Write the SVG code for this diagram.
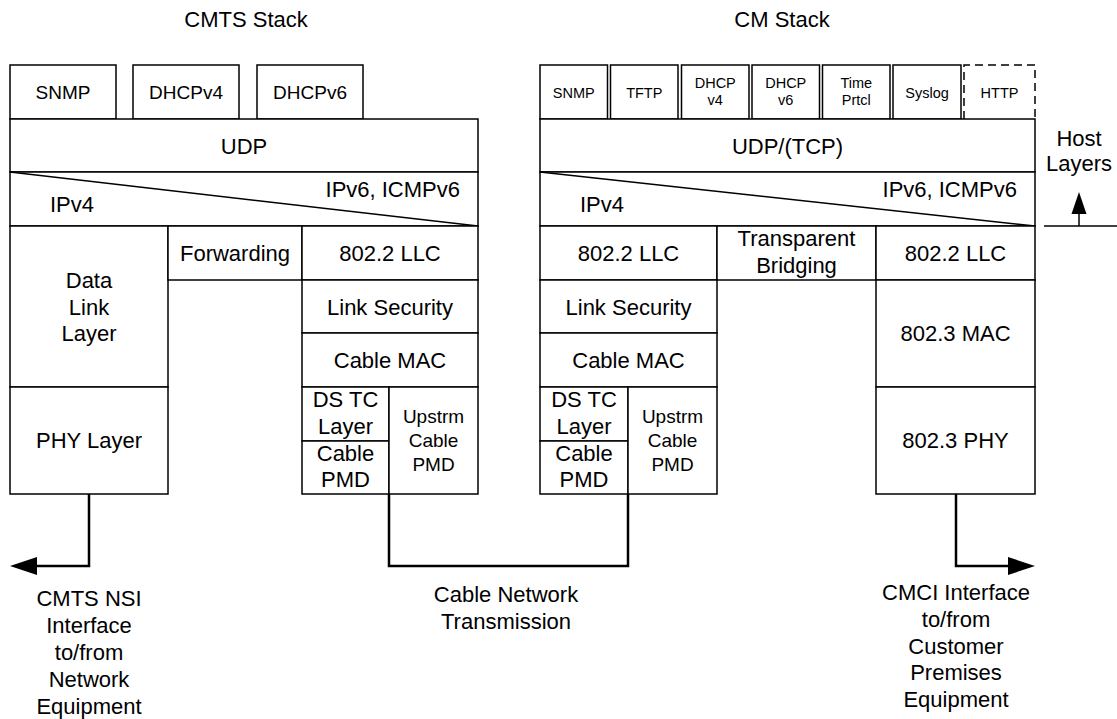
<svg xmlns="http://www.w3.org/2000/svg" width="1117" height="719" viewBox="0 0 1117 719">
<style>
  text { font-family: "Liberation Sans", Arial, sans-serif; fill: #000; text-anchor: middle; }
  .t22 { font-size: 22px; }
  .t19 { font-size: 19px; }
  .t14 { font-size: 14.5px; }
  .box { fill: #fff; stroke: #000; stroke-width: 1.5; }
  .dash { fill: none; stroke: #000; stroke-width: 1.5; stroke-dasharray: 8 5; }
  .thin { fill: none; stroke: #000; stroke-width: 1.5; }
  .conn { fill: none; stroke: #000; stroke-width: 2.5; }
  .st { text-anchor: start; }
  .en { text-anchor: end; }
</style>
<defs>
  <marker id="arrow" markerUnits="userSpaceOnUse" viewBox="0 0 27 18" refX="17" refY="9" markerWidth="27" markerHeight="18" orient="auto">
    <path d="M0,0 L27,9 L0,18 z" fill="#000"/>
  </marker>
</defs>
<rect width="1117" height="719" fill="#fff"/>

<g id="titles">
  <text class="t22" x="246" y="27">CMTS Stack</text>
  <text class="t22" x="782" y="27">CM Stack</text>
</g>

<!-- CMTS stack -->
<g id="cmts-snmp"><rect class="box" x="10" y="65" width="106" height="54"/><text class="t19" x="63" y="99">SNMP</text></g>
<g id="cmts-dhcpv4"><rect class="box" x="133" y="65" width="106" height="54"/><text class="t19" x="186" y="99">DHCPv4</text></g>
<g id="cmts-dhcpv6"><rect class="box" x="257" y="65" width="106" height="54"/><text class="t19" x="310" y="99">DHCPv6</text></g>
<g id="cmts-udp"><rect class="box" x="10" y="119" width="468" height="53"/><text class="t22" x="244" y="153.5">UDP</text></g>
<g id="cmts-ip"><rect class="box" x="10" y="172" width="468" height="54"/><line class="thin" x1="10" y1="172" x2="478" y2="226"/><text class="t22 st" x="50" y="212">IPv4</text><text class="t22 en" x="460" y="197">IPv6, ICMPv6</text></g>
<g id="cmts-dll"><rect class="box" x="10" y="226" width="158" height="161"/><text class="t22" x="89" y="288">Data</text><text class="t22" x="89" y="314.5">Link</text><text class="t22" x="89" y="341">Layer</text></g>
<g id="cmts-fwd"><rect class="box" x="168" y="226" width="134" height="54"/><text class="t22" x="235" y="261">Forwarding</text></g>
<g id="cmts-llc"><rect class="box" x="302" y="226" width="176" height="54"/><text class="t22" x="390" y="261">802.2 LLC</text></g>
<g id="cmts-linksec"><rect class="box" x="302" y="280" width="176" height="53"/><text class="t22" x="390" y="314.5">Link Security</text></g>
<g id="cmts-mac"><rect class="box" x="302" y="333" width="176" height="54"/><text class="t22" x="390" y="368">Cable MAC</text></g>
<g id="cmts-phy"><rect class="box" x="10" y="387" width="158" height="107"/><text class="t22" x="89" y="448">PHY Layer</text></g>
<g id="cmts-dstc"><rect class="box" x="302" y="387" width="87" height="54"/><text class="t22" x="345.5" y="407">DS TC</text><text class="t22" x="345.5" y="434">Layer</text></g>
<g id="cmts-pmd"><rect class="box" x="302" y="441" width="87" height="53"/><text class="t22" x="345.5" y="461">Cable</text><text class="t22" x="345.5" y="487">PMD</text></g>
<g id="cmts-upstrm"><rect class="box" x="389" y="387" width="89" height="107"/><text class="t19" x="433.5" y="423">Upstrm</text><text class="t19" x="433.5" y="447">Cable</text><text class="t19" x="433.5" y="471">PMD</text></g>

<!-- CM stack -->
<g id="cm-snmp"><rect class="box" x="540" y="65" width="67.5" height="54"/><text class="t14" x="573.75" y="97.5">SNMP</text></g>
<g id="cm-tftp"><rect class="box" x="610.5" y="65" width="67.5" height="54"/><text class="t14" x="644.25" y="97.5">TFTP</text></g>
<g id="cm-dhcpv4"><rect class="box" x="681.5" y="65" width="67.5" height="54"/><text class="t14" x="715.25" y="88">DHCP</text><text class="t14" x="715.25" y="104.5">v4</text></g>
<g id="cm-dhcpv6"><rect class="box" x="752" y="65" width="67.5" height="54"/><text class="t14" x="785.75" y="88">DHCP</text><text class="t14" x="785.75" y="104.5">v6</text></g>
<g id="cm-time"><rect class="box" x="822.5" y="65" width="67.5" height="54"/><text class="t14" x="856.25" y="88">Time</text><text class="t14" x="856.25" y="104.5">Prtcl</text></g>
<g id="cm-syslog"><rect class="box" x="893" y="65" width="68" height="54"/><text class="t14" x="927" y="97.5">Syslog</text></g>
<g id="cm-http"><path class="dash" d="M964,119 V65 H1035 V119"/><text class="t14" x="999.5" y="97.5">HTTP</text></g>
<g id="cm-udp"><rect class="box" x="540" y="119" width="495" height="53"/><text class="t22" x="787.5" y="153.5">UDP/(TCP)</text></g>
<g id="cm-ip"><rect class="box" x="540" y="172" width="495" height="54"/><line class="thin" x1="540" y1="172" x2="1035" y2="226"/><text class="t22 st" x="580" y="212">IPv4</text><text class="t22 en" x="1017" y="197">IPv6, ICMPv6</text></g>
<g id="cm-llc1"><rect class="box" x="540" y="226" width="177" height="54"/><text class="t22" x="628.5" y="261">802.2 LLC</text></g>
<g id="cm-bridge"><rect class="box" x="717" y="226" width="159" height="54"/><text class="t22" x="796.5" y="246">Transparent</text><text class="t22" x="796.5" y="273">Bridging</text></g>
<g id="cm-llc2"><rect class="box" x="876" y="226" width="159" height="54"/><text class="t22" x="955.5" y="261">802.2 LLC</text></g>
<g id="cm-linksec"><rect class="box" x="540" y="280" width="177" height="53"/><text class="t22" x="628.5" y="314.5">Link Security</text></g>
<g id="cm-mac"><rect class="box" x="540" y="333" width="177" height="54"/><text class="t22" x="628.5" y="368">Cable MAC</text></g>
<g id="cm-8023mac"><rect class="box" x="876" y="280" width="159" height="107"/><text class="t22" x="955.5" y="341">802.3 MAC</text></g>
<g id="cm-dstc"><rect class="box" x="540" y="387" width="88" height="54"/><text class="t22" x="584" y="407">DS TC</text><text class="t22" x="584" y="434">Layer</text></g>
<g id="cm-pmd"><rect class="box" x="540" y="441" width="88" height="53"/><text class="t22" x="584" y="461">Cable</text><text class="t22" x="584" y="487">PMD</text></g>
<g id="cm-upstrm"><rect class="box" x="628" y="387" width="89" height="107"/><text class="t19" x="672.5" y="423">Upstrm</text><text class="t19" x="672.5" y="447">Cable</text><text class="t19" x="672.5" y="471">PMD</text></g>
<g id="cm-8023phy"><rect class="box" x="876" y="387" width="159" height="107"/><text class="t22" x="955.5" y="448">802.3 PHY</text></g>

<g id="host-layers">
  <text class="t22" x="1079" y="146">Host</text>
  <text class="t22" x="1079" y="171">Layers</text>
  <polygon points="1079,192 1086.5,214 1071.5,214" fill="#000"/>
  <line class="thin" x1="1079" y1="214" x2="1079" y2="226"/>
  <line class="thin" x1="1044" y1="226" x2="1117" y2="226"/>
</g>

<g id="connectors">
  <path class="conn" d="M89,494 V566 H20" marker-end="url(#arrow)"/>
  <path class="conn" d="M389,494 V566 H628 V494"/>
  <path class="conn" d="M956,494 V566 H1025" marker-end="url(#arrow)"/>
</g>

<g id="labels">
  <text class="t22" x="89" y="606">CMTS NSI</text>
  <text class="t22" x="89" y="633">Interface</text>
  <text class="t22" x="89" y="660">to/from</text>
  <text class="t22" x="89" y="687">Network</text>
  <text class="t22" x="89" y="714">Equipment</text>
  <text class="t22" x="506" y="602">Cable Network</text>
  <text class="t22" x="506" y="629">Transmission</text>
  <text class="t22" x="956" y="600">CMCI Interface</text>
  <text class="t22" x="956" y="627">to/from</text>
  <text class="t22" x="956" y="654">Customer</text>
  <text class="t22" x="956" y="680">Premises</text>
  <text class="t22" x="956" y="707">Equipment</text>
</g>
</svg>
